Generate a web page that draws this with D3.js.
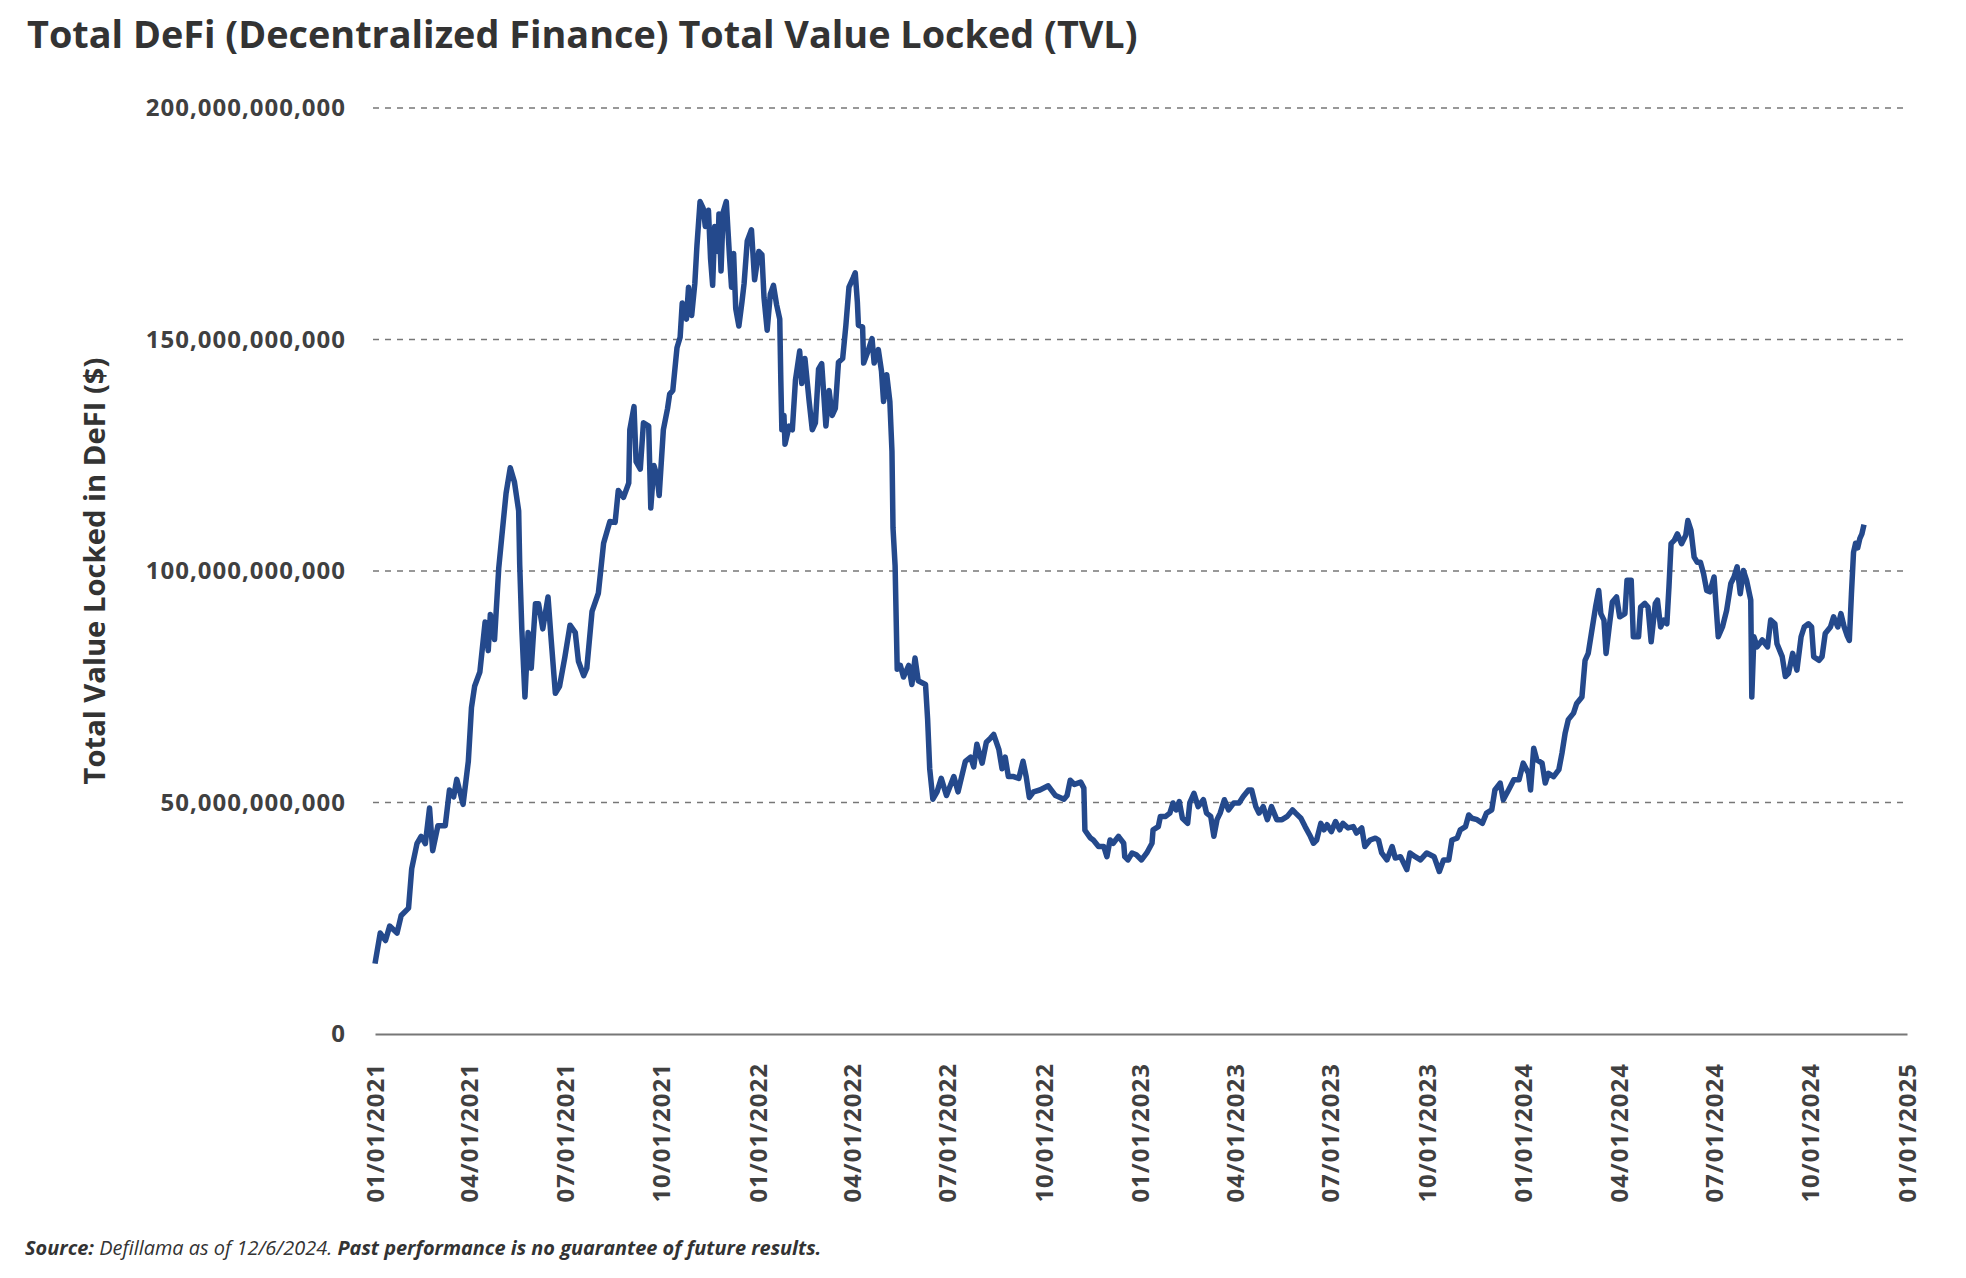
<!DOCTYPE html>
<html><head><meta charset="utf-8">
<script src="https://cdn.jsdelivr.net/npm/d3@7"></script>
<style>
html,body{margin:0;padding:0;background:#fff;}
svg{display:block;font-family:"Open Sans",sans-serif;}
</style></head><body>
<svg id="chart" width="1966" height="1278"></svg>
<script>
const chartTitle = "Total DeFi (Decentralized Finance) Total Value Locked (TVL)";
const yAxisTitle = "Total Value Locked in DeFI ($)";
const startDate = "2021-01-01";
// days since 2021-01-01
const dayOffsets = [0,5,10,14,21,25,32,35,40,44,48,52,55,60,67,71,75,78,84,89,92,95,100,105,108,110,114,118,121,125,129,133,137,138,140,143,146,149,153,156,160,165,168,172,176,181,186,191,194,199,202,207,213,218,224,
229,232,237,242,243,247,249,253,256,261,263,266,269,271,275,279,281,284,288,291,293,297,299,302,305,307,310,313,315,318,320,322,324,327,328,330,332,335,338,340,342,344,347,350,352,355,359,362,366,369,371,374,377,380,383,386,387,388,390,391,395,398,401,405,407,410,414,417,420,423,426,430,433,436,439,442,446,449,452,456,458,
460,461,465,466,470,474,476,480,483,485,488,491,493,494,496,498,501,504,509,512,515,518,525,527,529,532,536,540,545,552,556,563,568,571,574,579,583,587,590,595,598,601,604,609,614,618,621,624,628,634,642,649,657,660,663,667,673,676,677,682,
685,690,695,698,701,704,709,714,715,718,722,726,731,736,741,742,747,749,754,758,761,764,767,770,775,777,781,785,790,793,797,800,803,806,810,814,819,824,828,833,836,840,843,847,851,855,860,865,870,875,878,883,887,892,895,898,902,905,908,912,916,
920,923,928,933,936,941,944,949,954,957,960,965,970,973,978,984,987,992,997,1003,1010,1015,1019,1024,1027,1032,1035,1040,1043,1046,1051,1056,1060,1065,1068,1073,1076,1081,1086,1091,1095,1100,1102,1105,1108,1113,1116,1119,1124,1129,1132,1135,1138,1143,
1146,1151,1154,1157,1160,1164,1167,1169,1172,1174,1177,1180,1184,1187,1192,1194,1198,1200,1205,1207,1211,1214,1217,1221,1223,1226,1229,1232,1234,1236,1239,1242,1246,1250,1252,1255,1258,1261,1264,1267,1270,1273,1277,1281,1285,1289,1293,1296,1299,1302,1305,1308,1312,1313,1315,1318,1323,1328,1331,1335,1337,1342,1345,1348,1352,1356,1360,1363,1367,1370,1372,1377,1380,1383,1388,1391,1395,1398,
1401,1404,1406,1408,1410,1412,1414,1416,1418,1420];
// TVL in billions of USD
const tvlBillions = [15.2,21.8,20.2,23.3,21.8,25.6,27.2,35.7,41.1,42.7,41.1,48.8,39.6,45,45,52.7,51.2,55,49.6,58.9,70.5,75.1,78.2,89,82.8,90.6,85.2,100.6,107.6,116.8,122.3,119.2,113,101.4,87.5,72.8,86.7,79,92.9,92.9,87.5,94.4,85.2,73.6,75.1,81.3,88.3,86.7,80.5,77.4,79,91.3,95.2,106,110.7,
110.5,117.4,115.9,119,130.5,135.5,123.6,122,132,131.3,113.6,122.8,120.5,116.3,130.5,135.1,138.2,139,148.2,150.5,157.9,154.4,161.3,155.2,162.1,170.2,179.8,178.3,174.4,177.9,167.5,161.7,174.4,169,177.1,164.8,177.5,179.8,168.2,161.3,168.6,156.7,152.9,158.2,162.1,171.3,173.7,162.9,169,168.3,159,152,159.8,161.7,157.5,154.4,141.3,130.5,133.6,127.4,131.3,130.5,141.3,147.5,140.5,145.9,136.7,130.5,132,143.6,144.8,131.3,139,133.6,135.1,145.1,145.9,152.9,161.3,163.3,164.4,
158.1,153.1,152.7,144.9,147.4,150.2,144.9,147.8,143.2,136.6,142.4,136.6,125.9,109.3,101.1,78.8,79.6,77.1,79.6,75.5,81.2,76.3,75.5,68,57.3,50.7,52.3,55.2,51.5,55.6,52.3,58.9,59.8,57.7,62.6,58.5,63,63.9,64.7,61.4,57.3,59.8,55.6,55.6,55.2,58.9,55.6,51.1,52.3,52.7,53.6,51.5,50.7,51.5,54.8,53.9,54.4,53.1,44,42.4,
41.9,40.5,40.5,38.3,41.9,41.2,42.7,41.2,38.3,37.6,39.1,38.7,37.6,39.1,41.2,44.1,44.8,47,47,47.7,49.9,48.4,50.2,46.6,45.5,49.9,52,49.1,50.6,47.7,47,42.7,46.3,47.7,50.6,48.4,49.9,49.9,51.3,52.7,52.7,49.1,47.7,49.1,46.3,49.1,46.3,46.3,47,48.4,47.7,46.6,44.8,42.7,41.2,41.9,45.5,44.1,45.2,43.7,45.9,
44.1,45.5,44.5,44.8,43.4,44.5,40.5,41.9,42.3,41.9,39.1,37.6,40.5,38,38.3,35.5,39.1,38.3,37.6,39.1,38.3,35.1,37.6,37.6,41.9,42.3,44.1,44.8,47.3,46.6,46.3,45.5,47.7,48.4,52.7,54.2,50.6,52.7,54.9,54.9,58.5,56.3,52.7,61.7,59.2,58.5,54.2,56.3,55.6,57.1,60.7,65,67.9,69.3,
71.4,72.8,80.7,82.2,86.5,92.2,95.8,90.8,89.4,82.2,87.9,93.3,94.4,90.1,90.8,98,98,85.8,85.8,92.2,93,92.2,84.7,93,93.7,87.9,89.4,88.6,96.6,105.9,106.6,108,105.9,107.7,110.9,108.8,103,101.9,101.9,99.4,95.8,95.5,98.7,85.8,87.9,91.5,97.3,98.7,100.9,95.1,100.1,98,93.7,72.8,85.8,83.6,85.1,83.6,89.4,88.6,84.3,81.5,77.2,77.9,82.2,78.6,85.8,87.9,88.6,87.9,81.5,80.7,81.5,86.5,87.9,90.1,87.9,90.8,
88,86,85,95,104,106,105,107,108,110];
const yTickValues = [0, 50e9, 100e9, 150e9, 200e9];
const xTickDates = ["2021-01-01","2021-04-01","2021-07-01","2021-10-01","2022-01-01","2022-04-01","2022-07-01","2022-10-01","2023-01-01","2023-04-01","2023-07-01","2023-10-01","2024-01-01","2024-04-01","2024-07-01","2024-10-01","2025-01-01"];

const svg = d3.select("#chart");
const L = 375, R = 1907, T = 108, B = 1034;
const parse = d3.utcParse("%Y-%m-%d");
const t0 = parse(startDate);
const data = dayOffsets.map((d,i)=>({date: d3.utcDay.offset(t0, d), value: tvlBillions[i]*1e9}));

const x = d3.scaleUtc().domain([parse(xTickDates[0]), parse(xTickDates[xTickDates.length-1])]).range([L, R]);
const y = d3.scaleLinear().domain([0, 200e9]).range([B, T]);

// Title
const title = svg.append("text").attr("x", 27).attr("y", 48)
  .attr("font-size", 34).attr("font-weight", 700).attr("fill", "#333").text(chartTitle);
function fit(sel, w){ const cw = sel.node().getComputedTextLength(); sel.attr("font-size", parseFloat(sel.attr("font-size"))*w/cw); }
fit(title, 1111);

// grid + y axis
const yAxis = d3.axisLeft(y).tickValues(yTickValues).tickFormat(d3.format(",")).tickSize(0).tickPadding(0);
const gy = svg.append("g").attr("transform", `translate(${L-29},0)`).call(yAxis);
gy.select(".domain").remove();
gy.selectAll("text").attr("font-size", 24).attr("font-weight", 700).attr("fill", "#404040")
  .attr("font-family", '"Open Sans", sans-serif').style("letter-spacing", "1px");

const grid = svg.append("g");
grid.selectAll("line").data(yTickValues.filter(v=>v>0)).join("line")
  .attr("x1", L-2).attr("x2", R).attr("y1", d=>y(d)).attr("y2", d=>y(d))
  .attr("stroke", "#777").attr("stroke-width", 1.4).attr("stroke-dasharray", "6,6");

// x axis
const xAxis = d3.axisBottom(x).tickValues(xTickDates.map(parse)).tickFormat(d3.utcFormat("%m/%d/%Y")).tickSize(0).tickPadding(0);
const gx = svg.append("g").attr("transform", `translate(0,${B})`).call(xAxis);
gx.select(".domain").attr("stroke", "#777").attr("stroke-width", 2);
gx.selectAll("text").attr("font-size", 24).attr("font-weight", 700).attr("fill", "#404040")
  .attr("font-family", '"Open Sans", sans-serif').style("letter-spacing", "1px")
  .attr("text-anchor", "end").attr("transform", "translate(0,29) rotate(-90)").attr("x", 0).attr("y", 0).attr("dy", "0.35em");

// Y title
const yt = svg.append("text").attr("transform", "translate(95,571) rotate(-90)")
  .attr("text-anchor", "middle").attr("dy", "0.35em")
  .attr("font-size", 26).attr("font-weight", 700).attr("fill", "#333").text(yAxisTitle);
fit(yt, 427);

// line
const line = d3.line().x(d=>x(d.date)).y(d=>y(d.value));
svg.append("path").datum(data).attr("d", line).attr("fill", "none")
  .attr("stroke", "#24498c").attr("stroke-width", 5.5).attr("stroke-linejoin", "round");

// source
const src = svg.append("text").attr("x", 25).attr("y", 1255).attr("font-size", 18).attr("fill", "#333").attr("font-style", "italic");
src.append("tspan").attr("font-weight", 700).text("Source:");
src.append("tspan").attr("font-weight", 400).text(" Defillama as of 12/6/2024. ");
src.append("tspan").attr("font-weight", 700).text("Past performance is no guarantee of future results.");
fit(src, 797);
</script>
</body></html>
